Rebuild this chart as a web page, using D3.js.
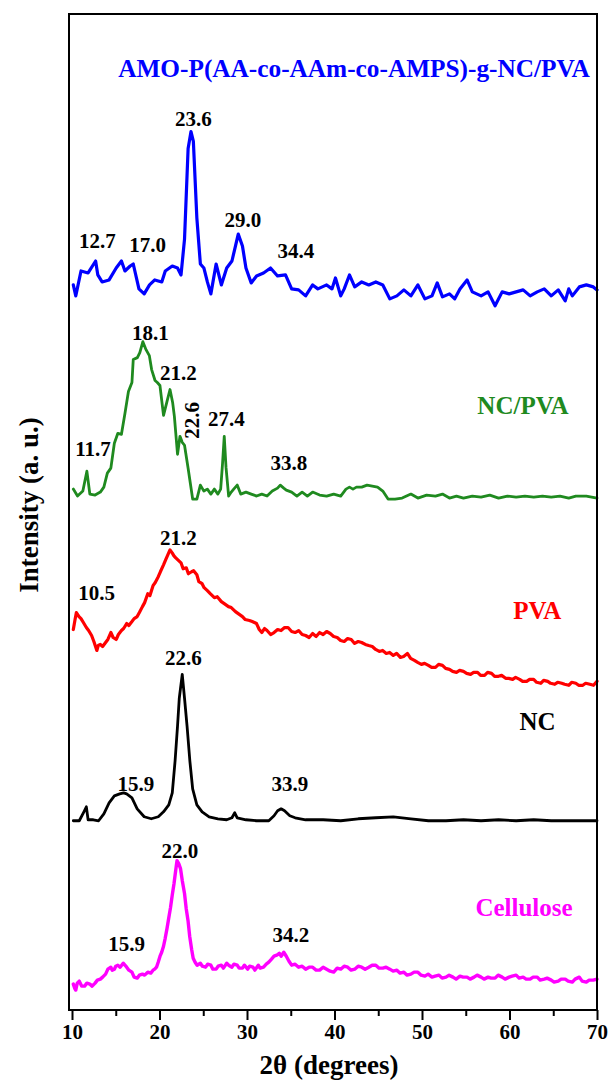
<!DOCTYPE html>
<html>
<head>
<meta charset="utf-8">
<script src="https://cdn.jsdelivr.net/npm/d3@7"></script>
<style>
  html, body { margin: 0; padding: 0; background: #fff; }
  svg text { font-family: "Liberation Serif", "Times New Roman", serif; font-weight: bold; }
</style>
</head>
<body>
<svg id="chart" width="608" height="1083"></svg>
<script>
// XRD patterns, stacked with vertical offsets: [2θ (deg), intensity (a.u.)]
const cellulose = [[10.15,26],[10.3,22],[10.43,20],[10.6,27],[10.83,29],[11.1,24],[11.44,24],[11.7,27],[12.04,26],[12.3,24],[12.64,27],[12.9,30],[13.24,31],[13.5,33],[13.84,36],[14.1,41],[14.44,43],[14.6,40],[14.84,41],[15.0,44],[15.24,45],[15.5,43],[15.85,47],[16.05,45],[16.25,43],[16.5,40],[16.85,38],[17.1,33],[17.45,32],[17.7,35],[18.05,36],[18.3,35],[18.66,38],[19.0,37],[19.26,40],[19.45,41],[19.66,43],[19.85,48],[20.06,54],[20.25,58],[20.46,64],[20.65,72],[20.86,82],[21.05,92],[21.26,103],[21.45,115],[21.66,127],[21.85,140],[22.0,150],[22.2,147],[22.4,142],[22.6,130],[22.86,117],[23.05,102],[23.27,89],[23.45,74],[23.67,61],[23.85,52],[24.07,48],[24.3,45],[24.67,47],[24.9,44],[25.27,43],[25.5,46],[25.87,45],[26.1,41],[26.47,41],[26.7,44],[27.07,45],[27.3,42],[27.68,47],[27.9,45],[28.28,43],[28.5,46],[28.88,45],[29.1,42],[29.48,42],[29.7,45],[30.08,41],[30.3,44],[30.68,43],[30.9,40],[31.29,45],[31.5,42],[31.89,43],[32.2,46],[32.49,48],[32.8,51],[33.09,54],[33.4,55],[33.69,57],[33.9,54],[34.2,58],[34.49,54],[34.8,49],[35.1,45],[35.5,46],[35.9,43],[36.3,44],[36.7,41],[37.1,43],[37.5,43],[37.9,40],[38.3,40],[38.7,43],[39.1,41],[39.5,39],[39.91,38],[40.3,42],[40.71,41],[41.1,44],[41.51,43],[41.9,40],[42.31,41],[42.7,44],[43.11,43],[43.5,41],[43.92,43],[44.3,45],[44.72,45],[45.1,42],[45.52,42],[45.9,43],[46.32,41],[46.7,39],[47.13,40],[47.5,37],[47.93,38],[48.3,35],[48.73,36],[49.1,38],[49.53,38],[49.9,35],[50.33,34],[50.7,36],[51.14,33],[51.5,34],[51.94,35],[52.3,32],[52.74,33],[53.1,35],[53.54,33],[53.9,31],[54.34,34],[54.7,33],[55.15,33],[55.5,31],[55.95,33],[56.3,35],[56.75,33],[57.1,31],[57.55,33],[57.9,32],[58.35,32],[58.7,35],[59.16,33],[59.5,31],[59.96,33],[60.3,34],[60.76,35],[61.1,32],[61.56,33],[61.9,31],[62.36,31],[62.7,33],[63.17,33],[63.5,30],[63.97,31],[64.3,32],[64.77,30],[65.1,28],[65.57,29],[65.9,31],[66.37,31],[66.7,29],[67.18,28],[67.5,31],[67.98,33],[68.3,29],[68.78,28],[69.1,30],[69.58,30],[70,31]];

const nc = [[10.15,190],[10.83,190],[11.36,199],[11.64,204],[11.84,191],[12.44,191],[13.04,190],[13.64,197],[14.24,208],[14.84,215],[15.45,217],[15.9,218],[16.25,217],[16.85,213],[17.45,202],[18.25,194],[19.06,192],[19.86,194],[20.46,199],[21.06,206],[21.46,218],[21.78,250],[22.06,285],[22.26,313],[22.6,337],[22.86,313],[23.15,285],[23.47,250],[23.79,222],[24.27,206],[24.87,199],[25.67,194],[26.67,192],[27.68,191],[28.28,193],[28.6,198],[28.88,193],[29.88,191],[31.09,190],[32.49,190],[33.09,195],[33.5,200],[33.9,202],[34.29,200],[34.89,195],[35.5,193],[36.7,191],[38.7,191],[40.71,190],[42.71,192],[44.72,193],[46.72,194],[48.73,192],[50.73,190],[52.74,190],[54.74,191],[56.75,190],[58.75,191],[60.76,190],[62.76,191],[64.77,190],[66.77,190],[70,190]];

const pva = [[10.15,382],[10.35,392],[10.5,399],[10.8,395],[11.03,393],[11.3,389],[11.64,384],[11.9,381],[12.24,376],[12.5,370],[12.84,361],[13.0,366],[13.24,367],[13.5,365],[13.84,369],[14.1,372],[14.44,379],[14.7,374],[15.05,372],[15.3,377],[15.65,381],[15.9,383],[16.25,388],[16.5,386],[16.85,390],[17.1,393],[17.45,395],[17.7,399],[18.05,405],[18.3,409],[18.66,418],[18.9,416],[19.26,426],[19.5,429],[19.86,435],[20.1,440],[20.46,447],[20.7,452],[20.95,457],[21.2,462],[21.45,459],[21.65,456],[21.86,454],[22.1,452],[22.46,449],[22.7,443],[23.06,444],[23.3,438],[23.67,440],[23.9,441],[24.27,437],[24.5,430],[24.87,428],[25.1,424],[25.47,421],[25.8,418],[26.27,414],[26.6,415],[27.07,410],[27.4,408],[27.88,405],[28.2,404],[28.68,400],[29.0,398],[29.48,395],[29.8,392],[30.28,391],[30.6,390],[31.09,388],[31.4,382],[31.69,379],[32.0,383],[32.29,381],[32.7,377],[33.09,379],[33.5,382],[33.89,381],[34.3,384],[34.69,384],[35.1,380],[35.5,379],[35.9,381],[36.3,377],[36.7,376],[37.1,374],[37.5,378],[37.9,375],[38.3,379],[38.7,377],[39.1,380],[39.51,378],[39.9,375],[40.31,374],[40.7,371],[41.11,370],[41.5,373],[41.91,372],[42.3,368],[42.71,370],[43.1,369],[43.52,367],[43.9,366],[44.32,365],[44.7,362],[45.12,360],[45.5,361],[45.92,358],[46.3,359],[46.72,356],[47.1,358],[47.53,354],[47.9,355],[48.33,358],[48.7,353],[49.13,351],[49.5,349],[49.93,347],[50.3,348],[50.73,346],[51.1,344],[51.54,344],[51.9,347],[52.34,346],[52.7,343],[53.14,342],[53.5,340],[53.94,339],[54.3,341],[54.74,340],[55.1,338],[55.55,337],[55.9,339],[56.35,339],[56.7,336],[57.15,336],[57.5,339],[57.95,338],[58.3,335],[58.75,335],[59.1,336],[59.56,333],[59.9,333],[60.36,332],[60.7,334],[61.16,332],[61.5,330],[61.96,330],[62.3,332],[62.76,332],[63.1,329],[63.57,328],[63.9,331],[64.37,330],[64.7,328],[65.17,327],[65.5,329],[65.97,328],[66.3,327],[66.77,326],[67.1,329],[67.58,328],[67.9,326],[68.38,326],[68.7,328],[69.18,327],[69.6,326],[70,330]];

const ncPva = [[10.15,523],[10.63,516],[11.24,521],[11.7,541],[12.04,518],[12.64,517],[13.24,520],[13.64,525],[14.04,539],[14.44,544],[14.84,569],[15.24,579],[15.65,578],[16.05,599],[16.45,621],[16.85,630],[17.0,653],[17.47,655],[17.75,660],[18.1,671],[18.46,663],[18.84,657],[19.1,643],[19.49,632],[19.75,630],[20.05,627],[20.46,597],[20.86,611],[21.2,623],[21.5,610],[21.7,596],[22.06,558],[22.34,576],[22.6,570],[22.86,567],[23.27,544],[23.79,513],[24.27,513],[24.67,527],[25.07,521],[25.47,523],[25.87,518],[26.27,523],[26.67,518],[26.99,523],[27.2,548],[27.4,576],[27.6,545],[27.9,516],[28.2,520],[28.48,523],[28.88,527],[29.28,518],[29.88,520],[30.48,518],[31.09,516],[31.69,518],[32.29,516],[32.89,521],[33.49,524],[33.8,527],[34.2,524],[34.49,522],[35.1,520],[35.7,516],[36.3,520],[36.9,516],[37.5,520],[38.3,517],[39.1,516],[39.91,518],[40.71,516],[41.31,523],[41.71,525],[42.11,523],[42.51,525],[43.11,525],[43.72,527],[44.32,526],[44.92,525],[45.52,521],[46.12,513],[46.92,513],[47.73,514],[48.73,518],[49.53,514],[50.53,517],[51.54,516],[52.34,518],[53.14,514],[53.94,516],[54.74,514],[55.75,516],[56.75,515],[57.75,517],[58.75,514],[59.76,516],[60.76,515],[61.76,516],[62.77,515],[63.77,516],[64.77,515],[65.77,516],[66.77,514],[67.58,516],[68.78,516],[70,514]];

const hydrogel = [[10.15,728],[10.43,717],[11.03,742],[11.84,740],[12.7,752],[12.95,738],[13.44,731],[14.24,733],[15.05,745],[15.65,752],[16.05,742],[16.65,747],[17.0,749],[17.65,724],[18.25,719],[18.86,728],[19.46,733],[20.26,731],[20.66,742],[21.46,747],[22.06,745],[22.46,738],[22.86,774],[23.27,865],[23.6,882],[23.87,872],[24.27,795],[24.67,749],[25.07,745],[25.47,731],[25.87,719],[26.47,749],[27.07,728],[27.68,745],[28.28,752],[28.68,767],[29.0,779],[29.48,767],[29.88,745],[30.48,730],[31.09,737],[31.89,740],[32.69,745],[33.49,737],[34.4,738],[35.1,724],[35.9,723],[36.7,717],[37.5,728],[38.1,724],[39.1,728],[39.71,724],[40.11,735],[40.71,717],[41.11,724],[41.71,738],[42.31,726],[43.11,731],[43.92,728],[44.72,731],[45.52,728],[46.32,714],[47.13,717],[47.93,723],[48.73,717],[49.53,728],[50.33,714],[51.14,717],[51.74,730],[52.34,716],[53.14,719],[53.74,714],[54.34,724],[55.15,733],[55.75,721],[56.75,717],[57.55,721],[58.35,707],[59.16,721],[59.96,719],[60.76,721],[61.56,723],[62.36,717],[63.17,721],[63.97,724],[64.77,717],[65.57,723],[66.37,712],[66.77,724],[67.18,717],[67.98,726],[68.78,728],[69.58,726],[70,723]];

const seriesNames  = ["Cellulose", "NC", "PVA", "NC/PVA", "AMO-P(AA-co-AAm-co-AMPS)-g-NC/PVA"];
const seriesData   = [cellulose, nc, pva, ncPva, hydrogel];
const seriesColors = ["#ff00ff", "#000000", "#ff0000", "#1f8a1f", "#0000ff"];
const seriesWidths = [3.4, 2.8, 3.2, 2.8, 3.2];

// x axis ticks (2θ, degrees)
const majorTicks = [10, 20, 30, 40, 50, 60, 70];
const minorTicks = [15, 25, 35, 45, 55, 65];

// Peak position labels: text and the [2θ, intensity] point it is written at
const peakLabels = [
  {text: "15.9", at: [16.25, 59]},
  {text: "22.0", at: [22.32, 153]},
  {text: "34.2", at: [35.0, 68]},
  {text: "15.9", at: [17.29, 220]},
  {text: "22.6", at: [22.72, 346]},
  {text: "33.9", at: [34.89, 220]},
  {text: "10.5", at: [12.8, 412]},
  {text: "21.2", at: [22.16, 467]},
  {text: "11.7", at: [12.4, 556]},
  {text: "18.1", at: [18.97, 673]},
  {text: "21.2", at: [22.15, 633]},
  {text: "22.6", at: [23.67, 592], rotate: true},
  {text: "27.4", at: [27.63, 586]},
  {text: "33.8", at: [34.78, 542]},
  {text: "12.7", at: [12.91, 765]},
  {text: "17.0", at: [18.65, 761]},
  {text: "23.6", at: [23.86, 888]},
  {text: "29.0", at: [29.52, 786]},
  {text: "34.4", at: [35.58, 755]}
];
// Sample name positions [2θ, intensity]
const nameAt = [[61.66, 94], [63.2, 281], [63.17, 393], [61.54, 598], [42.23, 937]];

const svg = d3.select("#chart");
const frame = {left: 69, right: 597, top: 14, bottom: 1010};

const x = d3.scaleLinear().domain([10, 70]).range([72, 597]);
const y = d3.scaleLinear().domain([0, 1000]).range([frame.bottom, frame.top]);

// patterns
const line = d3.line().x(d => x(d[0])).y(d => y(d[1]));
svg.append("g").selectAll("path")
  .data(seriesData)
  .join("path")
  .attr("d", line)
  .attr("fill", "none")
  .attr("stroke", (d, i) => seriesColors[i])
  .attr("stroke-width", (d, i) => seriesWidths[i])
  .attr("stroke-linejoin", "round")
  .attr("stroke-linecap", "round");

// plot frame
svg.append("rect")
  .attr("x", frame.left).attr("y", frame.top)
  .attr("width", frame.right - frame.left)
  .attr("height", frame.bottom - frame.top)
  .attr("fill", "none").attr("stroke", "#000").attr("stroke-width", 2);

// x axis: major and minor ticks below the frame
const gx = svg.append("g").attr("transform", `translate(0,${frame.bottom})`)
  .call(d3.axisBottom(x).tickValues(majorTicks).tickSize(10).tickPadding(4).tickFormat(d3.format("d")));
gx.select(".domain").remove();
gx.selectAll(".tick line").attr("stroke-width", 2);
gx.selectAll(".tick text").attr("font-size", 21).attr("fill", "#000")
  .attr("font-family", "'Liberation Serif', 'Times New Roman', serif").attr("font-weight", "bold");

const gxm = svg.append("g").attr("transform", `translate(0,${frame.bottom})`)
  .call(d3.axisBottom(x).tickValues(minorTicks).tickSize(6).tickFormat(""));
gxm.select(".domain").remove();
gxm.selectAll(".tick line").attr("stroke-width", 2);

// axis titles
svg.append("text")
  .attr("x", (frame.left + frame.right) / 2 - 4).attr("y", 1074)
  .attr("text-anchor", "middle").attr("font-size", 27).attr("fill", "#000")
  .text("2θ (degrees)");
svg.append("text")
  .attr("transform", "translate(38,505) rotate(-90)")
  .attr("text-anchor", "middle").attr("font-size", 27).attr("fill", "#000")
  .text("Intensity (a. u.)");

// sample names
svg.append("g").selectAll("text")
  .data(seriesNames)
  .join("text")
  .attr("x", (d, i) => x(nameAt[i][0]))
  .attr("y", (d, i) => y(nameAt[i][1]))
  .attr("text-anchor", "middle")
  .attr("font-size", (d, i) => i === 4 ? 25.3 : 25)
  .attr("fill", (d, i) => seriesColors[i])
  .text(d => d);

// peak labels
svg.append("g").selectAll("text")
  .data(peakLabels)
  .join("text")
  .attr("transform", d => d.rotate
    ? `translate(${x(d.at[0])},${y(d.at[1])}) rotate(-90)`
    : `translate(${x(d.at[0])},${y(d.at[1])})`)
  .attr("dy", d => d.rotate ? "0.35em" : null)
  .attr("text-anchor", "middle")
  .attr("font-size", 21)
  .attr("fill", "#000")
  .text(d => d.text);
</script>
</body>
</html>
